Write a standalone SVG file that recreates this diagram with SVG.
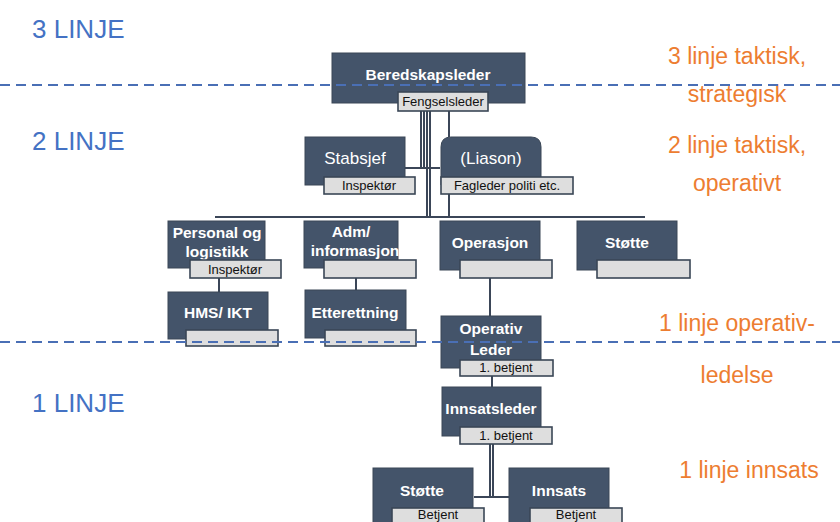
<svg xmlns="http://www.w3.org/2000/svg" width="840" height="522" viewBox="0 0 840 522">
<style>
.box{fill:#44546A;stroke:#3A4656;stroke-width:1}
.lab{fill:#DEDEDE;stroke:#3A4656;stroke-width:1.6}
.nt{font-family:"Liberation Sans",Arial,sans-serif;font-size:15.5px;font-weight:bold;fill:#FFFFFF;text-anchor:middle}
.nr{font-family:"Liberation Sans",Arial,sans-serif;font-size:17px;fill:#FFFFFF;text-anchor:middle}
.lt{font-family:"Liberation Sans",Arial,sans-serif;font-size:13px;fill:#111111;text-anchor:middle}
.lv{font-family:"Liberation Sans",Arial,sans-serif;font-size:26px;fill:#4472C4}
.or{font-family:"Liberation Sans",Arial,sans-serif;font-size:23px;fill:#ED7D31;text-anchor:middle}
.dash{stroke:#4A6FB5;stroke-width:1.8;stroke-dasharray:10 6;fill:none}
.c{stroke:#3B4658;stroke-width:2;fill:none}
</style>
<rect width="840" height="522" fill="#FFFFFF"/>
<g id="level-labels">
<text class="lv" x="32" y="38">3 LINJE</text>
<text class="lv" x="32" y="150">2 LINJE</text>
<text class="lv" x="32" y="412">1 LINJE</text>
<text class="or" x="737" y="64">3 linje taktisk,</text>
<text class="or" x="737" y="102">strategisk</text>
<text class="or" x="737" y="153">2 linje taktisk,</text>
<text class="or" x="737" y="191">operativt</text>
<text class="or" x="737" y="331">1 linje operativ-</text>
<text class="or" x="737" y="383">ledelse</text>
<text class="or" x="749" y="478">1 linje innsats</text>
</g>
<g id="connectors">
<line class="c" x1="215" y1="217" x2="645" y2="217" stroke="#C9CDD3"/>
<line class="c" x1="266" y1="217" x2="303" y2="217"/>
<line class="c" x1="399" y1="217" x2="439" y2="217"/>
<line class="c" x1="541" y1="217" x2="576" y2="217"/>
<line class="c" x1="421" y1="111" x2="421" y2="168" stroke-width="1.6"/>
<line class="c" x1="424" y1="111" x2="424" y2="168" stroke-width="1.6"/>
<line class="c" x1="427" y1="111" x2="427" y2="217" stroke-width="1.6"/>
<line class="c" x1="430" y1="111" x2="430" y2="217" stroke-width="1.6"/>
<line class="c" x1="449" y1="111" x2="449" y2="137"/>
<line class="c" x1="449" y1="194" x2="449" y2="217"/>
<line class="c" x1="405" y1="168" x2="440" y2="168"/>
<line class="c" x1="219" y1="278" x2="219" y2="292"/>
<line class="c" x1="356" y1="278" x2="356" y2="290"/>
<line class="c" x1="490" y1="278" x2="490" y2="316"/>
<line class="c" x1="492" y1="376" x2="492" y2="387"/>
<line class="c" x1="490" y1="444" x2="490" y2="497" stroke-width="1.6"/>
<line class="c" x1="493" y1="444" x2="493" y2="497" stroke-width="1.6"/>
<line class="c" x1="474" y1="497" x2="509" y2="497"/>
</g>
<g id="beredskapsleder">
<rect class="box" x="332" y="53" width="193" height="50"/>
<text class="nt" x="428" y="80">Beredskapsleder</text>
<rect class="lab" x="398" y="92" width="90" height="19"/>
<text class="lt" x="443" y="106">Fengselsleder</text>
</g>
<g id="stabsjef">
<rect class="box" x="305" y="137" width="100" height="48"/>
<text class="nr" x="355" y="164">Stabsjef</text>
<rect class="lab" x="324" y="177" width="91" height="17"/>
<text class="lt" x="369" y="190">Inspektør</text>
</g>
<g id="liason">
<path class="box" d="M441 185 V147 Q441 137 451 137 H531 Q541 137 541 147 V185 Z"/>
<text class="nr" x="491" y="164">(Liason)</text>
<rect class="lab" x="441" y="177" width="132" height="17"/>
<text class="lt" x="507" y="190">Fagleder politi etc.</text>
</g>
<g id="personal">
<rect class="box" x="168" y="221" width="97" height="47"/>
<text class="nt" x="217" y="238">Personal og</text>
<text class="nt" x="217" y="257">logistikk</text>
<rect class="lab" x="190" y="260" width="91" height="18"/>
<text class="lt" x="235" y="274">Inspektør</text>
</g>
<g id="adm">
<rect class="box" x="304" y="221" width="94" height="47"/>
<text class="nt" x="351" y="237">Adm/</text>
<text class="nt" x="355" y="256">informasjon</text>
<rect class="lab" x="324" y="260" width="92" height="18"/>
</g>
<g id="operasjon">
<rect class="box" x="440" y="221" width="100" height="49"/>
<text class="nt" x="490" y="248">Operasjon</text>
<rect class="lab" x="460" y="260" width="92" height="18"/>
</g>
<g id="stotte-top">
<rect class="box" x="577" y="221" width="100" height="49"/>
<text class="nt" x="627" y="248">Støtte</text>
<rect class="lab" x="597" y="260" width="93" height="18"/>
</g>
<g id="hms">
<rect class="box" x="168" y="292" width="100" height="47"/>
<text class="nt" x="218" y="318">HMS/ IKT</text>
<rect class="lab" x="186" y="330" width="92" height="16"/>
</g>
<g id="etterettning">
<rect class="box" x="305" y="290" width="101" height="48"/>
<text class="nt" x="355" y="318">Etterettning</text>
<rect class="lab" x="325" y="330" width="91" height="16"/>
</g>
<g id="operativ-leder">
<rect class="box" x="441" y="316" width="100" height="52"/>
<text class="nt" x="491" y="334">Operativ</text>
<text class="nt" x="491" y="355">Leder</text>
<rect class="lab" x="460" y="360" width="93" height="16"/>
<text class="lt" x="506" y="372">1. betjent</text>
</g>
<g id="dividers">
<line class="dash" x1="0" y1="85" x2="840" y2="85"/>
<line class="dash" x1="0" y1="342" x2="840" y2="342"/>
</g>
<g id="innsatsleder">
<rect class="box" x="442" y="387" width="99" height="49"/>
<text class="nt" x="491" y="414">Innsatsleder</text>
<rect class="lab" x="460" y="427" width="92" height="17"/>
<text class="lt" x="506" y="440">1. betjent</text>
</g>
<g id="stotte-bottom">
<rect class="box" x="373" y="468" width="100" height="60"/>
<text class="nt" x="422" y="496">Støtte</text>
<rect class="lab" x="392" y="508" width="92" height="20"/>
<text class="lt" x="438" y="519">Betjent</text>
</g>
<g id="innsats">
<rect class="box" x="509" y="468" width="100" height="60"/>
<text class="nt" x="559" y="496">Innsats</text>
<rect class="lab" x="530" y="508" width="92" height="20"/>
<text class="lt" x="576" y="519">Betjent</text>
</g>
</svg>
